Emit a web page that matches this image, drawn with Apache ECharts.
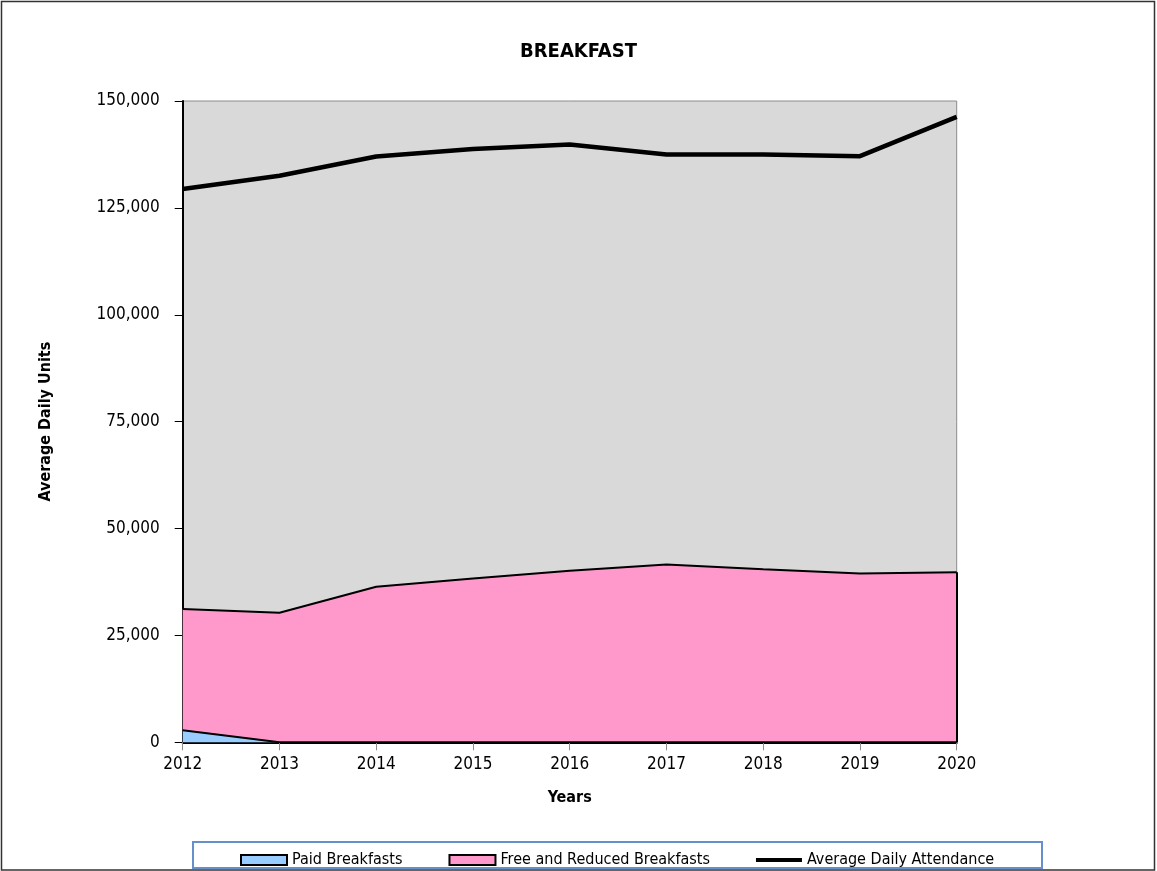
<!DOCTYPE html>
<html>
<head>
<meta charset="utf-8">
<script src="https://cdn.jsdelivr.net/npm/echarts@6/dist/echarts.min.js"></script>
<style>
  html, body { margin: 0; padding: 0; background: #ffffff; }
  #chart { width: 1157px; height: 871px; }
</style>
</head>
<body>
<div id="chart"></div>
<script>
// Breakfast participation by school year
const years = ['2012', '2013', '2014', '2015', '2016', '2017', '2018', '2019', '2020'];
const paidBreakfasts = [2800, 0, 0, 0, 0, 0, 0, 0, 0];
const freeReducedBreakfasts = [28400, 30300, 36400, 38300, 40100, 41600, 40500, 39500, 39800];
const avgDailyAttendance = [129400, 132500, 137000, 138800, 139800, 137500, 137500, 137100, 146300];
const yTicks = [0, 25000, 50000, 75000, 100000, 125000, 150000];

const FONT = 'DejaVu Sans Condensed';
const lastIdx = years.length - 1;
const stackTop2020 = paidBreakfasts[lastIdx] + freeReducedBreakfasts[lastIdx];

const chart = echarts.init(document.getElementById('chart'), null, { renderer: 'canvas' });

chart.setOption({
  animation: false,
  backgroundColor: '#ffffff',
  title: {
    text: 'BREAKFAST',
    left: 'center',
    top: 37,
    textStyle: { fontFamily: FONT, fontSize: 20, fontWeight: 'bold', color: '#000' }
  },
  grid: {
    left: 182.7, right: 200.3, top: 101, bottom: 128.7,
    show: true, backgroundColor: '#d9d9d9', borderColor: '#8c8c8c', borderWidth: 1
  },
  legend: {
    left: 235, top: 847,
    itemWidth: 46, itemHeight: 10, itemGap: 46,
    textStyle: { fontFamily: FONT, fontSize: 16, color: '#000' },
    data: [
      { name: 'Paid Breakfasts', icon: 'rect', itemStyle: { color: '#99ccff', borderColor: '#000', borderWidth: 2 } },
      { name: 'Free and Reduced Breakfasts', icon: 'rect', itemStyle: { color: '#ff99cc', borderColor: '#000', borderWidth: 2 } },
      { name: 'Average Daily Attendance', icon: 'path://M0,0h48v4h-48z', itemStyle: { color: '#000', borderWidth: 0 } }
    ]
  },
  xAxis: {
    type: 'category',
    data: years,
    boundaryGap: false,
    name: 'Years',
    nameLocation: 'middle',
    nameGap: 48,
    nameTextStyle: { fontFamily: FONT, fontSize: 16, fontWeight: 'bold', color: '#000' },
    axisLine: { show: true, lineStyle: { color: '#000', width: 2 } },
    axisTick: { show: true, alignWithLabel: true, length: 8, lineStyle: { color: '#8c8c8c' } },
    axisLabel: { fontFamily: FONT, fontSize: 17, color: '#000', margin: 14 },
    splitLine: { show: false }
  },
  yAxis: {
    type: 'value',
    min: yTicks[0],
    max: yTicks[yTicks.length - 1],
    interval: yTicks[1] - yTicks[0],
    name: 'Average Daily Units',
    nameLocation: 'middle',
    nameGap: 129,
    nameTextStyle: { fontFamily: FONT, fontSize: 16, fontWeight: 'bold', color: '#000' },
    axisLine: { show: true, lineStyle: { color: '#000', width: 2 } },
    axisTick: { show: true, length: 8, lineStyle: { color: '#000' } },
    axisLabel: {
      fontFamily: FONT, fontSize: 17, color: '#000', margin: 23,
      formatter: v => v.toLocaleString('en-US')
    },
    splitLine: { show: false }
  },
  graphic: [
    { type: 'rect', z: -10, silent: true,
      shape: { x: 1.5, y: 1.5, width: 1153, height: 868.5 },
      style: { fill: null, stroke: '#333', lineWidth: 1.5 } },
    { type: 'rect', z: -5, silent: true,
      shape: { x: 193, y: 842, width: 849, height: 26 },
      style: { fill: '#fff', stroke: '#6690cc', lineWidth: 2 } }
  ],
  series: [
    {
      name: 'Paid Breakfasts',
      type: 'line',
      stack: 'meals',
      data: paidBreakfasts,
      symbol: 'none',
      lineStyle: { color: '#000', width: 2 },
      itemStyle: { color: '#99ccff' },
      areaStyle: { color: '#99ccff', opacity: 1 },
      z: 3
    },
    {
      name: 'Free and Reduced Breakfasts',
      type: 'line',
      stack: 'meals',
      data: freeReducedBreakfasts,
      symbol: 'none',
      lineStyle: { color: '#000', width: 2 },
      itemStyle: { color: '#ff99cc' },
      areaStyle: { color: '#ff99cc', opacity: 1 },
      z: 2,
      markLine: {
        silent: true, symbol: 'none', label: { show: false },
        lineStyle: { color: '#000', width: 2, type: 'solid' },
        data: [[{ coord: [years[lastIdx], 0] }, { coord: [years[lastIdx], stackTop2020] }]]
      }
    },
    {
      name: 'Average Daily Attendance',
      type: 'line',
      data: avgDailyAttendance,
      symbol: 'none',
      lineStyle: { color: '#000', width: 4.5 },
      itemStyle: { color: '#000' },
      z: 5
    }
  ]
});
</script>
</body>
</html>
